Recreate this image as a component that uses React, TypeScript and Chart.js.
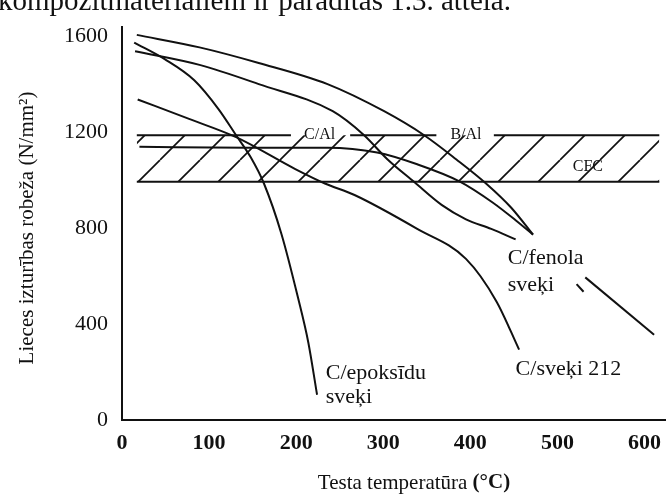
import React, { useEffect, useRef } from 'react';
import { Chart, registerables } from 'chart.js';

Chart.register(...registerables);

// ---- axis ticks ----
const xTickValues = [0, 100, 200, 300, 400, 500, 600];
const yTickValues = [0, 400, 800, 1200, 1600];

// ---- curves: test temperature (°C) vs flexural strength (N/mm²) ----
const fenolaATemp = [17, 89, 157, 236, 301, 347, 384, 418, 447, 472];
const fenolaAStrength = [1604, 1552, 1487, 1399, 1286, 1186, 1085, 985, 884, 772];

const fenolaBTemp = [15, 89, 157, 242, 278, 305, 335, 367, 395, 424, 452];
const fenolaBStrength = [1536, 1479, 1399, 1286, 1186, 1085, 993, 896, 836, 796, 752];

const fenolaCTemp = [20, 145, 236, 293, 339, 388, 426, 452, 472];
const fenolaCStrength = [1138, 1134, 1134, 1114, 1065, 993, 905, 832, 772];

const resin212Temp = [18, 77, 131, 199, 233, 267, 339, 395, 430, 456];
const resin212Strength = [1335, 1254, 1178, 1045, 985, 937, 796, 671, 494, 293];

const epoxyTemp = [14, 49, 83, 111, 131, 148, 163, 183, 202, 214, 224];
const epoxyStrength = [1572, 1503, 1415, 1294, 1186, 1093, 985, 776, 511, 322, 105];

// ---- leader strokes near "C/fenola sveķi" ----
const leaderShortTemp = [522, 530];
const leaderShortStrength = [566, 534];
const leaderLongTemp = [532, 611];
const leaderLongStrength = [594, 355];

// ---- hatched band (C/Al, B/Al, CFC region) ----
const bandLow = 992;
const bandHigh = 1186;
const bandStart = 17;
const bandEnd = 617;
const bandTopSegStart = [17, 262, 427];
const bandTopSegEnd = [194, 361, 617];

const bandLabelText = ['C/Al', 'B/Al', 'CFC'];
const bandLabelTemp = [227, 395, 535];
const bandLabelStrength = [1186, 1186, 1054];

// ---- curve labels ----
const curveLabelText = ['C/fenola', 'sveķi', 'C/sveķi 212', 'C/epoksīdu', 'sveķi'];
const curveLabelTemp = [443, 443, 452, 234, 234];
const curveLabelStrength = [672, 563, 213, 193, 96];

const xTitleMain = 'Testa temperatūra ';
const xTitleUnit = '(°C)';
const yTitle = 'Lieces izturības robeža (N/mm²)';
const topText = 'kompozītmateriāliem ir parādītas 1.3. attēlā.';

const SERIF = '"Liberation Serif", "Times New Roman", serif';
const INK = '#111';

function pts(xs: number[], ys: number[]) {
  return xs.map((x, i) => ({ x, y: ys[i] }));
}

function curve(label: string, xs: number[], ys: number[], smooth = true) {
  return {
    label,
    data: pts(xs, ys),
    borderColor: INK,
    borderWidth: 2,
    pointRadius: 0,
    fill: false,
    cubicInterpolationMode: smooth ? ('monotone' as const) : ('default' as const),
    tension: 0,
  };
}

export default function App() {
  const canvasRef = useRef<HTMLCanvasElement | null>(null);

  useEffect(() => {
    const canvas = canvasRef.current;
    if (!canvas) return;
    const ctx = canvas.getContext('2d');
    if (!ctx) return;

    // diagonal hatch pattern
    const pc = document.createElement('canvas');
    pc.width = 40;
    pc.height = 40;
    const g = pc.getContext('2d')!;
    g.strokeStyle = INK;
    g.lineWidth = 1.7;
    for (const k of [-40, 0, 40]) {
      g.beginPath();
      g.moveTo(k, 40);
      g.lineTo(k + 40, 0);
      g.stroke();
    }
    const pattern = ctx.createPattern(pc, 'repeat');

    const topLine: { x: number; y: number | null }[] = [];
    bandTopSegStart.forEach((s, i) => {
      if (i > 0) topLine.push({ x: (bandTopSegEnd[i - 1] + s) / 2, y: null });
      topLine.push({ x: s, y: bandHigh });
      topLine.push({ x: bandTopSegEnd[i], y: bandHigh });
    });

    const textPlugin = {
      id: 'texts',
      afterDraw(chart: any) {
        const c = chart.ctx as CanvasRenderingContext2D;
        const xs = chart.scales.x;
        const ys = chart.scales.y;
        c.save();
        c.fillStyle = INK;

        // band labels
        c.font = `16px ${SERIF}`;
        c.textAlign = 'center';
        c.textBaseline = 'middle';
        bandLabelText.forEach((t, i) => {
          c.fillText(t, xs.getPixelForValue(bandLabelTemp[i]), ys.getPixelForValue(bandLabelStrength[i]));
        });

        // curve labels
        c.font = `22px ${SERIF}`;
        c.textAlign = 'left';
        curveLabelText.forEach((t, i) => {
          c.fillText(t, xs.getPixelForValue(curveLabelTemp[i]), ys.getPixelForValue(curveLabelStrength[i]));
        });

        // x axis title (unit in bold)
        c.textBaseline = 'middle';
        c.font = `21px ${SERIF}`;
        const w1 = c.measureText(xTitleMain).width;
        c.font = `bold 21px ${SERIF}`;
        const w2 = c.measureText(xTitleUnit).width;
        const cx = 414;
        const startX = cx - (w1 + w2) / 2;
        c.textAlign = 'left';
        c.font = `21px ${SERIF}`;
        c.fillText(xTitleMain, startX, 483);
        c.font = `bold 21px ${SERIF}`;
        c.fillText(xTitleUnit, startX + w1, 483);

        // y axis title
        c.save();
        c.translate(27, 228);
        c.rotate(-Math.PI / 2);
        c.textAlign = 'center';
        c.font = `21px ${SERIF}`;
        c.fillText(yTitle, 0, 0);
        c.restore();

        // clipped text line from the page above (fitted to ~511px width)
        c.font = `100px ${SERIF}`;
        const w100 = c.measureText(topText).width;
        const size = Math.round((511 / w100) * 100);
        c.font = `${size}px ${SERIF}`;
        c.textAlign = 'left';
        c.textBaseline = 'alphabetic';
        c.fillText(topText, -2, 10);

        c.restore();
      },
    };

    const chart = new Chart(ctx, {
      type: 'line',
      data: {
        datasets: [
          {
            label: 'band',
            data: [
              { x: bandStart, y: bandHigh },
              { x: bandEnd, y: bandHigh },
            ],
            borderWidth: 0,
            pointRadius: 0,
            backgroundColor: pattern as any,
            fill: { value: bandLow } as any,
          },
          {
            label: 'bandTop',
            data: topLine as any,
            borderColor: INK,
            borderWidth: 2,
            pointRadius: 0,
            fill: false,
            spanGaps: false,
          },
          {
            label: 'bandBottom',
            data: [
              { x: bandStart, y: bandLow },
              { x: bandEnd, y: bandLow },
            ],
            borderColor: INK,
            borderWidth: 2,
            pointRadius: 0,
            fill: false,
          },
          curve('C/fenola A', fenolaATemp, fenolaAStrength),
          curve('C/fenola B', fenolaBTemp, fenolaBStrength),
          curve('C/fenola C', fenolaCTemp, fenolaCStrength),
          curve('C/sveķi 212', resin212Temp, resin212Strength),
          curve('C/epoksīdu sveķi', epoxyTemp, epoxyStrength),
          curve('leader1', leaderShortTemp, leaderShortStrength, false),
          curve('leader2', leaderLongTemp, leaderLongStrength, false),
        ] as any,
      },
      options: {
        animation: false,
        responsive: false,
        maintainAspectRatio: false,
        layout: { padding: { top: 13, left: 0, right: 0, bottom: 0 } },
        plugins: {
          legend: { display: false },
          tooltip: { enabled: false },
        },
        scales: {
          x: {
            type: 'linear',
            min: 0,
            max: 624,
            grid: { display: false, drawTicks: false },
            border: { display: true, color: INK, width: 2 },
            ticks: {
              color: INK,
              padding: 10,
              font: { family: SERIF, size: 22, weight: 'bold' },
              callback: (v: any) => String(v),
            },
            afterBuildTicks: (s: any) => {
              s.ticks = xTickValues.map((v) => ({ value: v }));
            },
            afterFit: (s: any) => {
              s.height = 76;
            },
          },
          y: {
            type: 'linear',
            min: 0,
            max: 1636,
            grid: { display: false, drawTicks: false },
            border: { display: true, color: INK, width: 2 },
            ticks: {
              color: INK,
              padding: 14,
              font: { family: SERIF, size: 22 },
              callback: (v: any) => String(v),
            },
            afterBuildTicks: (s: any) => {
              s.ticks = yTickValues.map((v) => ({ value: v }));
            },
            afterFit: (s: any) => {
              s.width = 122;
            },
          },
        },
      },
      plugins: [textPlugin],
    });

    return () => chart.destroy();
  }, []);

  return (
    <div style={{ position: 'fixed', left: 0, top: 0, width: 671, height: 496, background: '#fff' }}>
      <canvas ref={canvasRef} width={671} height={496} style={{ display: 'block', width: 671, height: 496 }} />
    </div>
  );
}
